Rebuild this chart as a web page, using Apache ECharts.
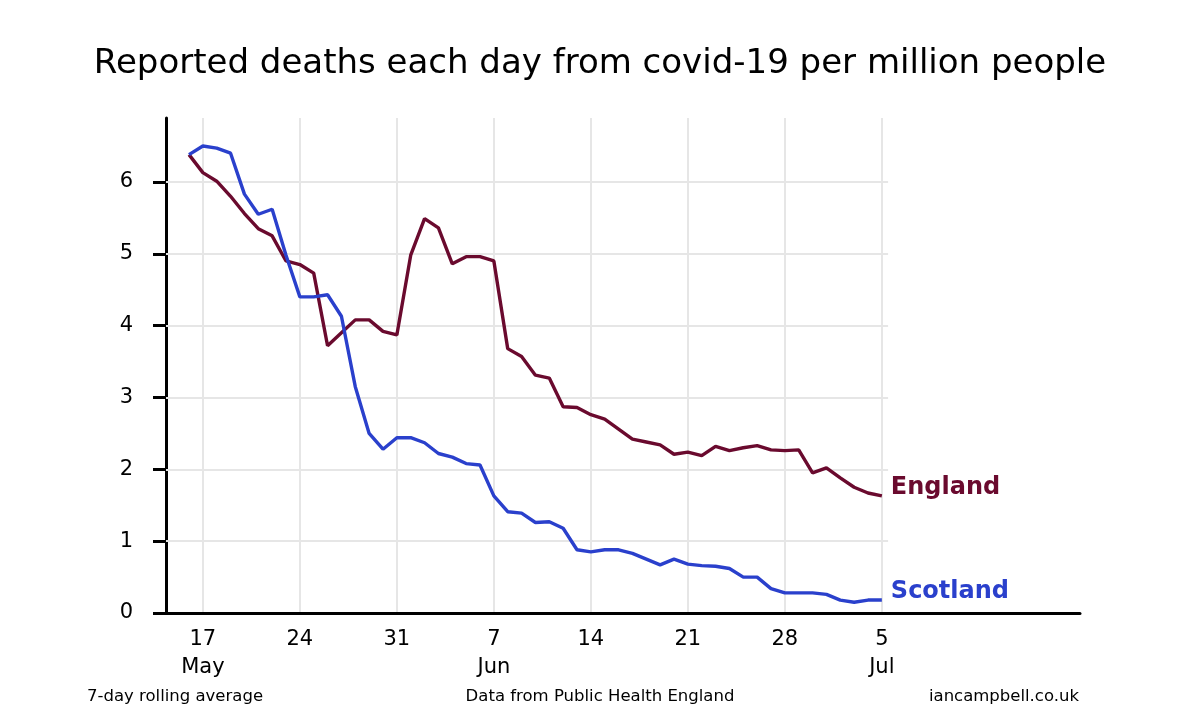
<!DOCTYPE html>
<html>
<head>
<meta charset="utf-8">
<script src="https://cdn.jsdelivr.net/npm/echarts@6/dist/echarts.min.js"></script>
<style>html,body{margin:0;padding:0;background:#fff}#c{width:1200px;height:720px}</style>
</head>
<body>
<div id="c"></div>
<script>
// Day index 0 = 16 May 2020 ... 50 = 5 Jul 2020
const england = [6.38,6.13,6.01,5.80,5.56,5.35,5.25,4.90,4.85,4.73,
  3.72,3.90,4.08,4.08,3.92,3.87,4.98,5.49,5.36,4.86,
  4.96,4.96,4.90,3.68,3.57,3.31,3.27,2.87,2.86,2.76,
  2.70,2.56,2.42,2.38,2.34,2.21,2.24,2.19,2.32,2.26,
  2.30,2.33,2.27,2.26,2.27,1.95,2.02,1.88,1.75,1.67,1.63];
const scotland = [6.38,6.50,6.47,6.40,5.83,5.55,5.62,4.98,4.40,4.40,
  4.43,4.13,3.15,2.50,2.28,2.44,2.44,2.37,2.22,2.17,
  2.08,2.06,1.63,1.41,1.39,1.26,1.27,1.18,0.88,0.85,
  0.88,0.88,0.83,0.75,0.67,0.75,0.68,0.66,0.65,0.62,
  0.50,0.50,0.34,0.28,0.28,0.28,0.26,0.18,0.15,0.18,0.18];
const tickDays = [1,8,15,22,29,36,43,50];
const tickLabels = ['17\nMay','24','31','7\nJun','14','21','28','5\nJul'];
const yTicks = [0,1,2,3,4,5,6];

const FONT = 'DejaVu Sans';
const ENG = '#6a0a2e', SCO = '#2a40cc', GRIDC = '#e6e6e6';
const xMin = -1.66, xMax = 64.3, xGridEnd = 50.45, yMax = 6.89;

const toPts = arr => arr.map((v,i)=>[i,v]);
const hLines = yTicks.slice(1).map(v => [{coord:[xMin, v]},{coord:[xGridEnd, v]}]);

const chart = echarts.init(document.getElementById('c'), null, {renderer:'canvas'});
chart.setOption({
  animation:false,
  backgroundColor:'#fff',
  textStyle:{fontFamily:FONT},
  title:[
    {text:'Reported deaths each day from covid-19 per million people', left:'center', top:42,
     textStyle:{fontFamily:FONT, fontSize:34, fontWeight:'normal', color:'#000'}},
    {text:'7-day rolling average', left:82, top:683, textStyle:{fontFamily:FONT,fontSize:16.5,fontWeight:'normal',color:'#000'}},
    {text:'Data from Public Health England', left:'center', top:683, textStyle:{fontFamily:FONT,fontSize:16.5,fontWeight:'normal',color:'#000'}},
    {text:'iancampbell.co.uk', right:116, top:683, textStyle:{fontFamily:FONT,fontSize:16.5,fontWeight:'normal',color:'#000'}}
  ],
  grid:{left:166, right:120, top:118, bottom:107, containLabel:false},
  xAxis:{
    type:'value', min:xMin, max:xMax,
    axisLine:{show:true, onZero:false, lineStyle:{color:'#000', width:3}},
    axisTick:{show:false, customValues:tickDays},
    splitLine:{show:true, lineStyle:{color:GRIDC, width:2}},
    axisLabel:{customValues:tickDays, margin:13, color:'#000', fontFamily:FONT, fontSize:21, lineHeight:28,
      formatter:(v)=>{const i=tickDays.indexOf(Math.round(v)); return i>=0?tickLabels[i]:'';}}
  },
  yAxis:{
    type:'value', min:0, max:yMax,
    axisLine:{show:true, onZero:false, lineStyle:{color:'#000', width:3}},
    axisTick:{show:true, length:13, customValues:yTicks, lineStyle:{color:'#000', width:3}},
    splitLine:{show:false},
    axisLabel:{customValues:yTicks, margin:33, color:'#000', fontFamily:FONT, fontSize:21}
  },
  series:[
    {name:'England', type:'line', data:toPts(england), symbol:'none', z:3,
     lineStyle:{color:ENG, width:3.4}, itemStyle:{color:ENG},
     endLabel:{show:true, formatter:'{a}', offset:[1,-8], color:ENG, fontFamily:FONT, fontSize:24, fontWeight:'bold'},
     markLine:{silent:true, symbol:'none', label:{show:false}, z:1,
       lineStyle:{color:GRIDC, width:2, type:'solid'}, data:hLines}},
    {name:'Scotland', type:'line', data:toPts(scotland), symbol:'none', z:4,
     lineStyle:{color:SCO, width:3.4}, itemStyle:{color:SCO},
     endLabel:{show:true, formatter:'{a}', offset:[1,-8], color:SCO, fontFamily:FONT, fontSize:24, fontWeight:'bold'}}
  ]
});
</script>
</body>
</html>
